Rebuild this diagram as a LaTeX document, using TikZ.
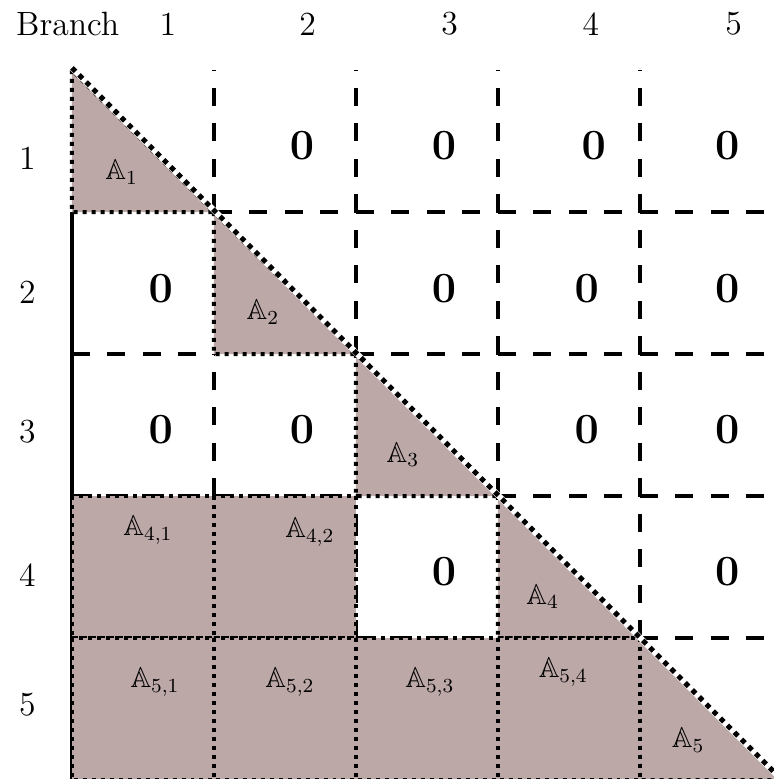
\documentclass[tikz,border=0pt]{standalone}
\usepackage{amssymb}
\usepackage{xcolor}
\usepackage{tikz}
\usetikzlibrary{positioning}
\definecolor{blockfill}{HTML}{BDA8A8}

\tikzset{
  zeroline/.style={line width=1.7pt, dash pattern=on 7.11pt off 7.11pt},
  edgeline/.style={line width=1.7pt},
  blockcell/.style={fill=blockfill, draw=black, line width=1.6pt, dotted},
  diagline/.style={line width=2pt, dotted},
  headlbl/.style={font=\fontsize{13.5}{16}\selectfont, inner sep=0pt},
  zerolbl/.style={font=\fontsize{16}{19}\selectfont, inner sep=0pt},
  blocklbl/.style={font=\fontsize{11.5}{14}\selectfont, inner sep=0pt}
}

\begin{document}
\begin{tikzpicture}
    \useasboundingbox (-1.014,0.986) rectangle (9.887,-9.986);
    \clip (-1.014,0.986) rectangle (9.887,-9.986);
    % zero blocks: left and bottom edges, dashes start at the corner
    \foreach \r/\c in {1/2,1/3,1/4,1/5,2/1,2/3,2/4,2/5,3/1,3/2,3/4,3/5,4/3,4/5}{
      \draw[zeroline] ({2*\c-2},{-2*\r}) -- ({2*\c-2},{-2*\r+2});
      \draw[zeroline] ({2*\c-2},{-2*\r}) -- ({2*\c},{-2*\r});
    }
    \draw[edgeline] (0,-2) -- (0,-10);
    % shaded blocks
    \foreach \k in {1,...,5}
      \filldraw[blockcell] ({2*\k-2},{-2*\k+2}) -- ({2*\k-2},{-2*\k}) -- ({2*\k},{-2*\k}) -- cycle;
    \foreach \r/\c in {4/1,4/2,5/1,5/2,5/3,5/4}
      \filldraw[blockcell] ({2*\c-2},{-2*\r+2}) rectangle ({2*\c},{-2*\r});
    \draw[white, line width=2.4pt] (0,0.03) -- (10,-10);
    \draw[diagline] (0,0.03) -- (10,-10);
    % labels
    \node[headlbl] (branch) at (-0.06,0.65) {Branch};
    \foreach \c/\x in {1/1.35,2/3.32,3/5.32,4/7.31,5/9.32}
      \node[headlbl] (col\c) at (\x,0.65) {\c};
    \foreach \r/\y in {1/-1.24,2/-3.13,3/-5.10,4/-7.11,5/-8.94}
      \node[headlbl] (row\r) at (-0.63,\y) {\r};
    \foreach \r/\c/\x/\y in {1/2/3.24/-1.06,1/3/5.24/-1.06,1/4/7.35/-1.06,1/5/9.23/-1.06,
                             2/1/1.25/-3.08,2/3/5.24/-3.08,2/4/7.25/-3.08,2/5/9.23/-3.08,
                             3/1/1.25/-5.07,3/2/3.24/-5.07,3/4/7.25/-5.07,3/5/9.23/-5.07,
                             4/3/5.24/-7.07,4/5/9.23/-7.07}
      \node[zerolbl] (z\r\c) at (\x,\y) {$\mathbf{0}$};
    \foreach \k/\x/\y in {1/0.70/-1.44,2/2.69/-3.41,3/4.66/-5.42,4/6.63/-7.42,5/8.68/-9.44}
      \node[blocklbl] (a\k) at (\x,\y) {$\mathbb{A}_{\k}$};
    \foreach \r/\c/\x/\y in {4/1/1.07/-6.48,4/2/3.35/-6.51,5/1/1.17/-8.62,
                             5/2/3.07/-8.62,5/3/5.04/-8.62,5/4/6.92/-8.48}
      \node[blocklbl] (a\r\c) at (\x,\y) {$\mathbb{A}_{\r,\c}$};
\end{tikzpicture}
\end{document}
